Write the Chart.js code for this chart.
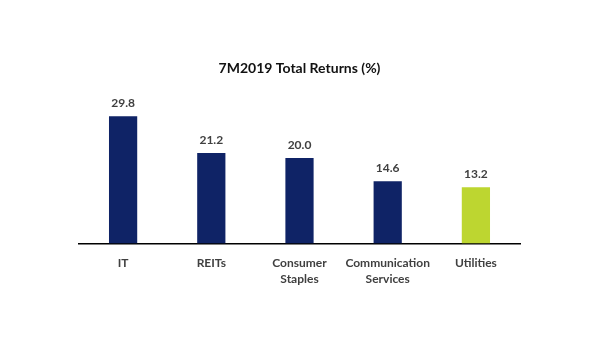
<!DOCTYPE html>
<html>
<head>
<meta charset="utf-8">
<script src="https://cdn.jsdelivr.net/npm/chart.js@4/dist/chart.umd.min.js"></script>
<style>
  html, body { margin: 0; padding: 0; background: #fff; }
  #wrap { width: 600px; height: 360px; }
</style>
</head>
<body>
<div id="wrap"><canvas id="myChart" width="600" height="360"></canvas></div>
<script>
var sectors = [["IT"], ["REITs"], ["Consumer", "Staples"], ["Communication", "Services"], ["Utilities"]];
var returns = [29.8, 21.2, 20.0, 14.6, 13.2];
var barColors = ["#0f2366", "#0f2366", "#0f2366", "#0f2366", "#bdd630"];

var fontFamily = "Lato, 'Open Sans', sans-serif";

// value labels above each bar
var valueLabels = {
  id: "valueLabels",
  afterDatasetsDraw: function (chart) {
    var ctx = chart.ctx;
    var meta = chart.getDatasetMeta(0);
    ctx.save();
    ctx.font = "bold 12px " + fontFamily;
    ctx.fillStyle = "#404040";
    ctx.textAlign = "center";
    ctx.textBaseline = "middle";
    meta.data.forEach(function (bar, i) {
      ctx.fillText(returns[i].toFixed(1), bar.x, bar.y - 13);
    });
    ctx.restore();
  }
};

new Chart(document.getElementById("myChart").getContext("2d"), {
  type: "bar",
  data: {
    labels: sectors,
    datasets: [{
      data: returns,
      backgroundColor: barColors,
      categoryPercentage: 1,
      barPercentage: 0.32
    }]
  },
  options: {
    responsive: false,
    animation: false,
    layout: { padding: { left: 79, right: 80, top: 0, bottom: 62 } },
    plugins: {
      legend: { display: false },
      tooltip: { enabled: false },
      title: {
        display: true,
        text: "7M2019 Total Returns (%)",
        color: "#111",
        font: { family: fontFamily, size: 14, weight: "bold" },
        padding: { top: 60, bottom: 30 }
      }
    },
    scales: {
      x: {
        grid: { display: true, color: "rgba(0,0,0,0)", drawOnChartArea: false, drawTicks: false },
        border: { display: true, color: "#000", width: 1.5 },
        ticks: {
          color: "#404040",
          padding: 11,
          maxRotation: 0,
          autoSkip: false,
          font: { family: fontFamily, size: 12, weight: "bold", lineHeight: 1.35 }
        }
      },
      y: {
        display: false,
        min: 0,
        max: 32
      }
    }
  },
  plugins: [valueLabels]
});
</script>
</body>
</html>
